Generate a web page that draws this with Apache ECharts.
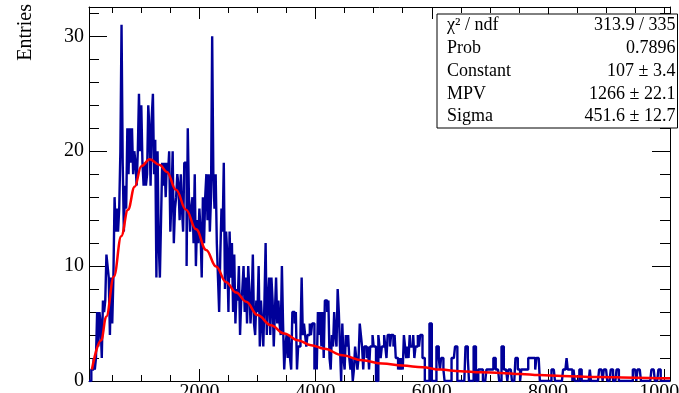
<!DOCTYPE html>
<html>
<head>
<meta charset="utf-8">
<script src="https://cdn.jsdelivr.net/npm/echarts@6/dist/echarts.min.js"></script>
<style>
html,body{margin:0;padding:0;background:#fff;}
#chart{width:679px;height:393px;}
</style>
</head>
<body>
<div id="chart"></div>
<script>
// Histogram: 500 bins of width 20 from 100 to 10100
const xMin = 100;
const xMax = 10100;
const binWidth = 20;
const binValues = [
  0,0,1,1,2,1,2,6,3,6,
  5,2,7,6,7,11,10,9,4,9,
  5,9,16,13,15,13,15,20,31,19,
  13,17,15,22,18,22,19,22,18,20,
  19,17,20,25,20,24,19,17,19,17,
  18,24,22,17,23,25,18,21,9,20,
  12,9,14,19,17,19,16,19,18,20,
  13,16,20,12,15,16,18,17,14,18,
  15,13,19,19,10,22,16,13,15,16,
  12,18,10,14,12,15,13,9,16,12,
  16,18,14,18,13,16,30,18,15,18,
  12,9,6,11,15,13,19,8,13,11,
  6,13,9,12,6,11,5,8,7,10,
  4,7,8,10,6,9,5,10,8,5,
  7,11,5,4,7,6,10,3,7,5,
  3,7,12,4,7,9,4,9,7,3,
  6,9,5,7,5,4,10,5,1,3,
  4,2,4,2,1,6,6,5,6,1,
  3,3,4,9,4,5,4,3,4,4,
  5,4,5,5,1,3,1,6,4,6,
  3,6,2,7,7,6,7,2,1,4,
  3,6,4,3,8,6,3,0,5,2,
  1,4,3,4,2,1,2,0,1,3,
  2,1,2,5,4,3,1,3,3,2,
  3,1,3,3,4,3,3,0,0,4,
  3,2,3,3,4,3,2,4,4,3,
  4,4,3,4,2,2,1,2,1,2,
  1,4,3,2,3,2,4,3,3,4,
  2,3,3,4,3,4,4,2,2,0,
  0,0,0,5,5,0,0,0,0,3,
  3,2,1,2,2,1,0,0,0,0,
  0,0,2,2,2,3,3,0,0,0,
  0,0,0,0,3,3,2,0,0,0,
  0,3,3,0,0,1,1,1,1,0,
  0,0,1,1,1,1,1,1,2,2,
  1,1,1,0,0,3,3,1,1,1,
  0,1,1,1,0,0,0,2,2,1,
  1,0,1,1,1,1,1,1,2,2,
  2,2,2,2,1,2,2,2,0,0,
  0,0,0,0,0,0,0,0,1,1,
  1,0,0,0,0,0,0,0,1,1,
  1,2,1,1,1,1,0,1,0,0,
  0,0,1,1,0,0,0,0,0,0,
  0,1,0,0,0,0,0,0,0,1,
  1,1,0,1,1,1,0,0,0,1,
  1,0,0,0,1,1,0,0,0,0,
  0,0,0,0,0,0,0,0,1,1,
  1,0,1,1,1,0,0,0,0,0,
  0,0,0,0,1,1,1,0,0,0,
  1,1,0,0,0,0,0,0,0,0
];

// Fit curve (Landau) points
const fitX = [150,310,397,529,655,771,886,1000,1145,1317,1440,1598,1771,1943,2116,2288,2460,2633,2805,3000,3231,3460,3690,3921,4150,4460,4805,5150,5495,5840,6150,6495,6840,7184,7529,7845,8241,8845,9507,10024,10100];
const fitY = [1.0,3.55,5.6,9.1,12.6,14.9,16.9,18.7,19.3,18.8,18.2,16.65,14.9,13.2,11.4,9.96,8.6,7.7,6.9,5.74,4.86,4.14,3.55,3.12,2.8,2.24,1.8,1.52,1.34,1.2,0.99,0.85,0.76,0.70,0.61,0.52,0.44,0.35,0.29,0.24,0.23];

const yMax = 32.55;

// Stats box
const statNames = ['χ² / ndf', 'Prob', 'Constant', 'MPV', 'Sigma'];
const statValues = ['313.9 / 335', '0.7896', '107 ± 3.4', '1266 ± 22.1', '451.6 ± 12.7'];
const yTitle = 'Entries';

const histData = binValues.map((v, i) => [xMin + i * binWidth, v]);
histData.push([xMax, binValues[binValues.length - 1]]);
const fitData = fitX.map((x, i) => [x, fitY[i]]);

const FONT = 'Liberation Serif';

function xAxisCfg(pos, showLabels) {
  return {
    type: 'value', position: pos, min: xMin, max: xMax, splitNumber: 5,
    axisLine: { show: true, onZero: false, lineStyle: { color: '#000', width: 1 } },
    axisTick: { show: true, inside: true, length: 12, lineStyle: { color: '#000', width: 1 } },
    minorTick: { show: true, splitNumber: 4, length: 6, lineStyle: { color: '#000', width: 1 } },
    axisLabel: { show: showLabels, fontFamily: FONT, fontSize: 20, color: '#000', margin: 2,
      showMinLabel: false, showMaxLabel: false, formatter: v => String(v) },
    splitLine: { show: false }
  };
}
function yAxisCfg(pos, showLabels) {
  return {
    type: 'value', position: pos, min: 0, max: yMax, interval: 10,
    axisLine: { show: true, onZero: false, lineStyle: { color: '#000', width: 1 } },
    axisTick: { show: true, inside: true, length: 18, lineStyle: { color: '#000', width: 1 } },
    minorTick: { show: true, splitNumber: 5, length: 10, lineStyle: { color: '#000', width: 1 } },
    axisLabel: { show: showLabels, fontFamily: FONT, fontSize: 20, color: '#000', margin: 5,
      showMaxLabel: false, formatter: v => String(v) },
    splitLine: { show: false }
  };
}

const rowH = 22.8, boxX = 437, boxY = 14, boxW = 240.5, boxH = 114;
const graphics = [
  { type: 'rect', z: 100, shape: { x: boxX, y: boxY, width: boxW, height: boxH },
    style: { fill: '#fff', stroke: '#000', lineWidth: 1 } },
  { type: 'text', z: 100, x: 26, y: 4, rotation: Math.PI / 2,
    style: { text: yTitle, fontFamily: FONT, fontSize: 20, fill: '#000', align: 'right', verticalAlign: 'middle' } }
];
statNames.forEach((n, k) => {
  const cy = boxY + rowH * (k + 0.5);
  graphics.push({ type: 'text', z: 101, x: 447, y: cy,
    style: { text: n, fontFamily: FONT, fontSize: 18, fill: '#000', align: 'left', verticalAlign: 'middle' } });
  graphics.push({ type: 'text', z: 101, x: 675.5, y: cy,
    style: { text: statValues[k], fontFamily: FONT, fontSize: 18, fill: '#000', align: 'right', verticalAlign: 'middle' } });
});

const chart = echarts.init(document.getElementById('chart'), null, { renderer: 'canvas' });
chart.setOption({
  animation: false,
  backgroundColor: '#fff',
  grid: { left: 89, right: 9, top: 7, bottom: 12, containLabel: false, outerBoundsMode: 'none' },
  xAxis: [xAxisCfg('bottom', true), xAxisCfg('top', false)],
  yAxis: [yAxisCfg('left', true), yAxisCfg('right', false)],
  series: [
    { type: 'line', xAxisIndex: 0, yAxisIndex: 0, data: histData, step: 'end', showSymbol: false, symbol: 'none',
      lineStyle: { color: '#000099', width: 2.4 }, clip: true, z: 2 },
    { type: 'line', xAxisIndex: 0, yAxisIndex: 0, data: fitData, smooth: 0.4, smoothMonotone: 'x', showSymbol: false, symbol: 'none',
      lineStyle: { color: '#ff0000', width: 2.5 }, clip: true, z: 3 }
  ],
  graphic: graphics
});
</script>
</body>
</html>
